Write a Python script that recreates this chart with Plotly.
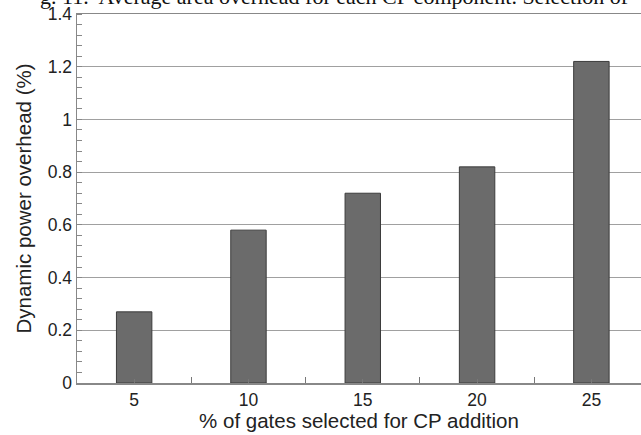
import plotly.graph_objects as go

categories = ["5", "10", "15", "20", "25"]
overhead = [0.27, 0.58, 0.72, 0.82, 1.22]
y_ticks = [0, 0.2, 0.4, 0.6, 0.8, 1, 1.2, 1.4]

xpos = list(range(1, len(categories) + 1))

fig = go.Figure()
fig.add_trace(go.Bar(
    x=xpos, y=overhead, width=0.31,
    marker=dict(color="#6b6b6b", line=dict(color="#3c3c3c", width=1)),
    showlegend=False, hoverinfo="skip",
))

font = "Liberation Sans, Arial, sans-serif"
fig.update_layout(
    width=641, height=435,
    margin=dict(l=77, r=0, t=14, b=52, pad=0),
    plot_bgcolor="white", paper_bgcolor="white",
    bargap=0, hovermode=False, dragmode=False,
    font=dict(family=font, size=17.5, color="#222"),
    xaxis=dict(
        range=[0.5, 5.434],
        tickvals=xpos, ticktext=categories,
        ticks="inside", ticklen=4, tickcolor="#777",
        minor=dict(tick0=0.5, dtick=1, ticks="inside", ticklen=6, tickcolor="#777", showgrid=False),
        showgrid=False, zeroline=False, automargin=False,
        showline=True, linecolor="#888", linewidth=1.5, mirror=True,
        title=dict(text="% of gates selected for CP addition", font=dict(size=20.5), standoff=2),
        tickfont=dict(size=17.5),
    ),
    yaxis=dict(
        range=[0, 1.4],
        tickvals=y_ticks,
        ticks="", showgrid=True, gridcolor="#a0a0a0", gridwidth=1,
        minor=dict(dtick=0.04, ticks="inside", ticklen=5, tickcolor="#888", showgrid=False),
        zeroline=False, automargin=False,
        showline=True, linecolor="#888", linewidth=1.5, mirror=False,
        title=dict(text="Dynamic power overhead (%)", font=dict(size=20.5), standoff=10),
        tickfont=dict(size=17.5),
    ),
)

fig.add_annotation(
    text="g. 11.  Average area overhead for each CP component. Selection of",
    xref="paper", yref="paper", x=-0.069, y=1.0, yshift=3,
    xanchor="left", yanchor="bottom", showarrow=False,
    font=dict(family="Liberation Serif, Times New Roman, serif", size=22, color="#111"),
)

fig.write_html(
    "out.html",
    config={"displayModeBar": False, "staticPlot": True},
    post_script="document.body.style.margin='0';document.body.style.overflow='hidden';",
)
